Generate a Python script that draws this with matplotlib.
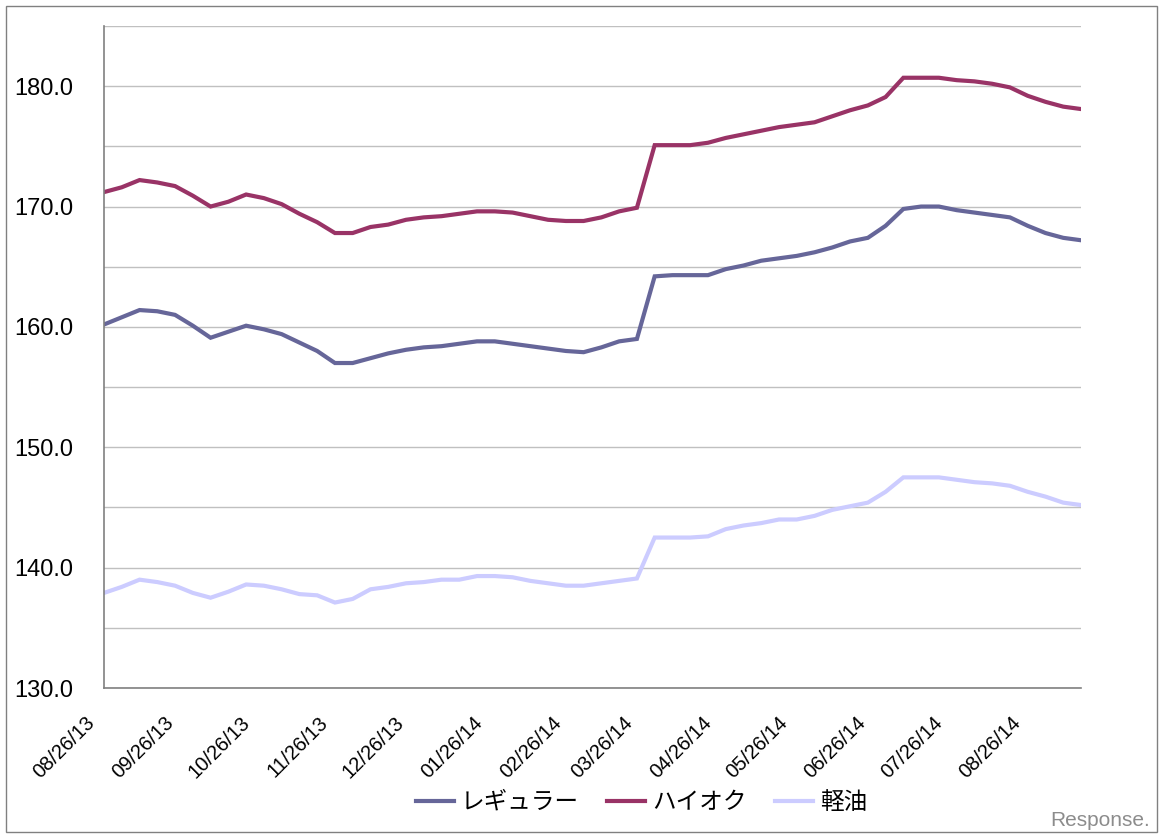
import matplotlib
matplotlib.use("Agg")
import matplotlib.pyplot as plt
import matplotlib.transforms as mtransforms
from matplotlib.patches import Rectangle
from matplotlib.ticker import MultipleLocator, FormatStrFormatter
import pandas as pd

plt.rcParams['font.family'] = ['Liberation Sans', 'Noto Sans CJK JP']

# weekly survey dates
weeks = pd.date_range('2013-08-26', periods=56, freq='7D')

regular = [160.2, 160.8, 161.4, 161.3, 161.0, 160.1, 159.1, 159.6, 160.1, 159.8,
           159.4, 158.7, 158.0, 157.0, 157.0, 157.4, 157.8, 158.1, 158.3, 158.4,
           158.6, 158.8, 158.8, 158.6, 158.4, 158.2, 158.0, 157.9, 158.3, 158.8,
           159.0, 164.2, 164.3, 164.3, 164.3, 164.8, 165.1, 165.5, 165.7, 165.9,
           166.2, 166.6, 167.1, 167.4, 168.4, 169.8, 170.0, 170.0, 169.7, 169.5,
           169.3, 169.1, 168.4, 167.8, 167.4, 167.2]

high_octane = [171.2, 171.6, 172.2, 172.0, 171.7, 170.9, 170.0, 170.4, 171.0, 170.7,
               170.2, 169.4, 168.7, 167.8, 167.8, 168.3, 168.5, 168.9, 169.1, 169.2,
               169.4, 169.6, 169.6, 169.5, 169.2, 168.9, 168.8, 168.8, 169.1, 169.6,
               169.9, 175.1, 175.1, 175.1, 175.3, 175.7, 176.0, 176.3, 176.6, 176.8,
               177.0, 177.5, 178.0, 178.4, 179.1, 180.7, 180.7, 180.7, 180.5, 180.4,
               180.2, 179.9, 179.2, 178.7, 178.3, 178.1]

diesel = [137.9, 138.4, 139.0, 138.8, 138.5, 137.9, 137.5, 138.0, 138.6, 138.5,
          138.2, 137.8, 137.7, 137.1, 137.4, 138.2, 138.4, 138.7, 138.8, 139.0,
          139.0, 139.3, 139.3, 139.2, 138.9, 138.7, 138.5, 138.5, 138.7, 138.9,
          139.1, 142.5, 142.5, 142.5, 142.6, 143.2, 143.5, 143.7, 144.0, 144.0,
          144.3, 144.8, 145.1, 145.4, 146.3, 147.5, 147.5, 147.5, 147.3, 147.1,
          147.0, 146.8, 146.3, 145.9, 145.4, 145.2]

labels = ['レギュラー', 'ハイオク', '軽油']
colors = ['#666699', '#993366', '#CCCCFF']
tick_dates = pd.date_range('2013-08-26', '2014-08-26', freq=pd.DateOffset(months=1))

W, H = 1162, 838
fig = plt.figure(figsize=(W / 100, H / 100), dpi=100)
ax = fig.add_axes([104 / W, 1 - 688 / H, (1081 - 104) / W, (688 - 26) / H])

for vals, lab, col in zip([regular, high_octane, diesel], labels, colors):
    ax.plot(weeks, vals, color=col, lw=3, label=lab, solid_joinstyle='miter')

ax.set_xlim(weeks[0], weeks[-1])
ax.set_ylim(130, 185)
ax.yaxis.set_major_locator(MultipleLocator(10))
ax.yaxis.set_minor_locator(MultipleLocator(5))
ax.yaxis.set_major_formatter(FormatStrFormatter('%.1f'))
ax.grid(True, which='both', axis='y', color='#C0C0C0', lw=1)
ax.set_axisbelow(True)
ax.tick_params(axis='y', which='both', length=0, pad=22, labelsize=17)

# date labels, rotated, sitting a little left of and below each month tick
ax.set_xticks(tick_dates)
ax.set_xticklabels([])
ax.tick_params(axis='x', length=0)
offset = mtransforms.ScaledTranslation(-19 / 100, -25 / 100, fig.dpi_scale_trans)
for d in tick_dates:
    ax.text(d, 0, d.strftime('%m/%d/%y'), transform=ax.get_xaxis_transform() + offset,
            rotation=45, ha='right', va='top', rotation_mode='anchor', fontsize=14.5)

for s in ['top', 'right']:
    ax.spines[s].set_visible(False)
for s in ['left', 'bottom']:
    ax.spines[s].set_color('#808080')
    ax.spines[s].set_linewidth(1.2)

fig.legend(loc='center', bbox_to_anchor=(0.552, 1 - 803 / H), ncol=3, frameon=False,
           fontsize=17, handlelength=1.6, handletextpad=0.3, columnspacing=1.2)

fig.text(1150 / W, 1 - 820 / H, 'Response.', ha='right', va='center',
         fontsize=15, color='#8C8C8C')

fig.patches.append(Rectangle((6 / W, 1 - 832 / H), (1157 - 6) / W, (832 - 6) / H,
                             transform=fig.transFigure, fill=False,
                             edgecolor='#808080', lw=1))

fig.savefig('out.png', dpi=100)
